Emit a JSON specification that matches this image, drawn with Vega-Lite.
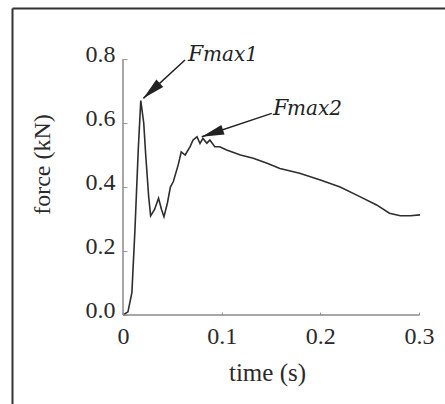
{
  "$schema": "https://vega.github.io/schema/vega-lite/v6.json",
  "width": 433,
  "height": 396,
  "autosize": {"type": "none"},
  "padding": {"left": 12, "top": 8, "right": 0, "bottom": 0},
  "background": "white",
  "config": {
    "view": {"stroke": null},
    "font": "Liberation Serif",
    "axis": {"grid": false, "labelFont": "Liberation Serif", "titleFont": "Liberation Serif", "labelColor": "#2a2a2a", "titleColor": "#2a2a2a", "titleFontWeight": "normal"}
  },
  "datasets": {
    "curve": [
      {"t": 0, "f": 0}, {"t": 0.005, "f": 0.01}, {"t": 0.009, "f": 0.07}, {"t": 0.012, "f": 0.26},
      {"t": 0.0155, "f": 0.52}, {"t": 0.018, "f": 0.67}, {"t": 0.021, "f": 0.6}, {"t": 0.023, "f": 0.5},
      {"t": 0.026, "f": 0.37}, {"t": 0.028, "f": 0.31}, {"t": 0.032, "f": 0.33}, {"t": 0.036, "f": 0.365},
      {"t": 0.039, "f": 0.33}, {"t": 0.0415, "f": 0.307}, {"t": 0.045, "f": 0.35}, {"t": 0.048, "f": 0.4},
      {"t": 0.051, "f": 0.417}, {"t": 0.056, "f": 0.47}, {"t": 0.059, "f": 0.51}, {"t": 0.063, "f": 0.5},
      {"t": 0.068, "f": 0.526}, {"t": 0.071, "f": 0.547}, {"t": 0.075, "f": 0.557}, {"t": 0.078, "f": 0.536},
      {"t": 0.081, "f": 0.552}, {"t": 0.085, "f": 0.537}, {"t": 0.088, "f": 0.547}, {"t": 0.093, "f": 0.526},
      {"t": 0.098, "f": 0.526}, {"t": 0.105, "f": 0.516}, {"t": 0.119, "f": 0.5}, {"t": 0.132, "f": 0.49},
      {"t": 0.146, "f": 0.474}, {"t": 0.159, "f": 0.458}, {"t": 0.179, "f": 0.443}, {"t": 0.2, "f": 0.422},
      {"t": 0.22, "f": 0.4}, {"t": 0.24, "f": 0.37}, {"t": 0.257, "f": 0.344}, {"t": 0.27, "f": 0.318},
      {"t": 0.281, "f": 0.31}, {"t": 0.291, "f": 0.31}, {"t": 0.301, "f": 0.313}
    ],
    "axislines": [
      {"x": 0, "x2": 0.3, "y": 0, "y2": 0},
      {"x": 0, "x2": 0, "y": 0, "y2": 0.8}
    ],
    "arrows": [
      {"label": "Fmax1", "x": 0.0628, "y": 0.797, "x2": 0.0206, "y2": 0.677, "angle": 227.4},
      {"label": "Fmax2", "x": 0.1507, "y": 0.63, "x2": 0.0798, "y2": 0.557, "angle": 251.5}
    ],
    "bigF": [
      {"label": "F", "x": 0.0659, "y": 0.794},
      {"label": "F", "x": 0.152, "y": 0.625}
    ],
    "subs": [
      {"label": "max1", "x": 0.0811, "y": 0.794},
      {"label": "max2", "x": 0.1662, "y": 0.625}
    ]
  },
  "resolve": {"axis": {"x": "independent", "y": "independent"}},
  "layer": [
    {
      "data": {"name": "curve"},
      "mark": {"type": "line", "color": "#2e2e2e", "strokeWidth": 1.6},
      "encoding": {
        "x": {
          "field": "t", "type": "quantitative",
          "scale": {"domain": [-0.1125, 0.3263], "nice": false, "zero": false},
          "axis": {"orient": "bottom", "offset": -89, "values": [0, 0.1, 0.2, 0.3], "format": "~g", "domain": false,
                   "ticks": true, "tickSize": -3, "tickColor": "#999", "labelFontSize": 24, "labelPadding": 12,
                   "title": "time (s)", "titleFontSize": 25, "titleX": 255, "titleY": 65, "titleBaseline": "alphabetic", "titleAlign": "center"}
        },
        "y": {
          "field": "f", "type": "quantitative",
          "scale": {"domain": [-0.2781, 0.9594], "nice": false, "zero": false},
          "axis": {"orient": "left", "offset": -111, "values": [0, 0.2, 0.4, 0.6, 0.8], "format": ".1f", "domain": false,
                   "ticks": true, "tickSize": -4, "tickColor": "#999", "labelFontSize": 24, "labelPadding": 12, "labelOffset": -5,
                   "title": "force (kN)", "titleFontSize": 24, "titleAngle": 270, "titleX": -81, "titleY": 156, "titleAlign": "center", "titleBaseline": "middle"}
        }
      }
    },
    {
      "data": {"name": "axislines"},
      "mark": {"type": "rule", "color": "#8a8a8a", "strokeWidth": 1.5},
      "encoding": {
        "x": {"field": "x", "type": "quantitative",
              "axis": {"orient": "top", "offset": 0, "domain": true, "domainColor": "#333", "domainWidth": 2, "labels": false, "ticks": false, "title": null}},
        "x2": {"field": "x2"},
        "y": {"field": "y", "type": "quantitative",
              "axis": {"orient": "left", "offset": 0, "domain": true, "domainColor": "#333", "domainWidth": 2, "labels": false, "ticks": false, "title": null}},
        "y2": {"field": "y2"}
      }
    },
    {
      "data": {"name": "arrows"},
      "mark": {"type": "rule", "color": "#222", "strokeWidth": 1.5},
      "encoding": {
        "x": {"field": "x", "type": "quantitative", "axis": null},
        "x2": {"field": "x2"},
        "y": {"field": "y", "type": "quantitative", "axis": null},
        "y2": {"field": "y2"}
      }
    },
    {
      "data": {"name": "arrows"},
      "mark": {"type": "point", "shape": "M0,0L-0.45,2L0.45,2Z", "filled": true, "color": "#222", "size": 500, "opacity": 1},
      "encoding": {
        "x": {"field": "x2", "type": "quantitative", "axis": null},
        "y": {"field": "y2", "type": "quantitative", "axis": null},
        "angle": {"field": "angle", "type": "quantitative", "scale": null}
      }
    },
    {
      "data": {"name": "bigF"},
      "mark": {"type": "text", "font": "DejaVu Serif", "fontStyle": "italic", "fontSize": 22, "align": "left", "baseline": "alphabetic", "color": "#222"},
      "encoding": {
        "x": {"field": "x", "type": "quantitative", "axis": null},
        "y": {"field": "y", "type": "quantitative", "axis": null},
        "text": {"field": "label"}
      }
    },
    {
      "data": {"name": "subs"},
      "mark": {"type": "text", "font": "DejaVu Serif", "fontStyle": "italic", "fontSize": 20, "align": "left", "baseline": "alphabetic", "color": "#222"},
      "encoding": {
        "x": {"field": "x", "type": "quantitative", "axis": null},
        "y": {"field": "y", "type": "quantitative", "axis": null},
        "text": {"field": "label"}
      }
    }
  ]
}
